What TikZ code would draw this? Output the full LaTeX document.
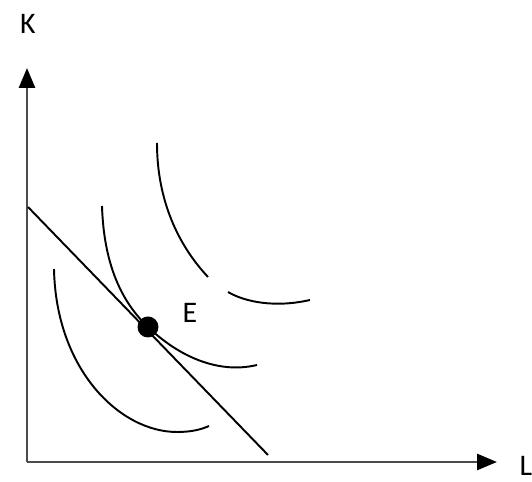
\documentclass[tikz,border=0pt]{standalone}
\usepackage{fontspec}
\setmainfont{Carlito}
\usetikzlibrary{arrows.meta}

\begin{document}
\begin{tikzpicture}[x=0.02cm, y=-0.02cm,
    >={Triangle[length=0.40cm, width=0.32cm, color=black]},
    axis/.style={line width=1.6pt, black!70},
    isoq/.style={line width=1.1pt, black},
    lbl/.style={font=\fontsize{17}{20}\selectfont}]
    \useasboundingbox (0,0) rectangle (532,482);

    \coordinate (O) at (27,462);
    \coordinate (Ktop) at (27,68);
    \coordinate (Lend) at (497,462);

    \draw[axis, ->] (O) -- (Ktop);
    \draw[axis, ->] (O) -- (Lend);
    \node[lbl] (K) at (28,24) {K};
    \node[lbl] (L) at (526,466) {L};

    % isocost line
    \coordinate (C1) at (28,207);
    \coordinate (C2) at (268,455);
    \draw[isoq] (C1) -- (C2);

    % isoquants
    \draw[isoq] (54,269) .. controls (56,370) and (120,432) .. (177,432)
        .. controls (190,432) and (200,430) .. (209,426);
    \draw[isoq] (102,206) .. controls (104,270) and (125,305) .. (148,327)
        .. controls (175,353) and (215,375) .. (257,365);
    \draw[isoq] (157,143) .. controls (157,200) and (178,245) .. (208,277);
    \draw[isoq] (228,292) .. controls (245,302) and (275,308) .. (310,300);

    % equilibrium
    \fill (148,327) circle[radius=10.5];
    \node[lbl] (E) at (190,313) {E};
\end{tikzpicture}
\end{document}
